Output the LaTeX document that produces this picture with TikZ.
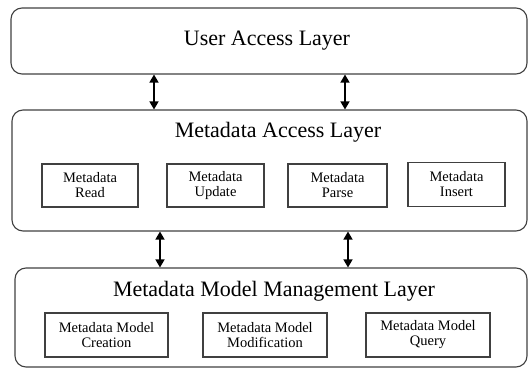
\documentclass[tikz,border=0pt]{standalone}
\usepackage{fontspec}
\setmainfont{Liberation Serif}
\usetikzlibrary{arrows.meta}
\begin{document}
\begin{tikzpicture}[x=1pt,y=-1pt,
  layer/.style={draw=black!75,line width=1.1pt,rounded corners=11pt},
  sub/.style={draw=black!75,line width=1.3pt,fill=white,align=center,
    font=\fontsize{14.5}{15}\selectfont,inner sep=0pt},
  ttl/.style={font=\fontsize{22}{24}\selectfont,inner sep=0pt},
  link/.style={line width=1.5pt,{Triangle[length=8pt,width=9pt]}-{Triangle[length=8pt,width=9pt]}}]
\useasboundingbox (0,0) rectangle (528,372);
% layers
\node[layer,minimum width=516pt,minimum height=66pt] (ual) at (269,41) {};
\node[ttl] (ualt) at (267,41) {User Access Layer};
\node[layer,minimum width=515pt,minimum height=121pt] (mal) at (269.5,170.5) {};
\node[ttl] (malt) at (278,132) {Metadata Access Layer};
\node[layer,minimum width=512pt,minimum height=99pt] (mml) at (271,317.5) {};
\node[ttl] (mmlt) at (274,291) {Metadata Model Management Layer};
% access sub boxes
\node[sub,minimum width=96pt,minimum height=43pt] (r) at (90,185.5) {Metadata\\Read};
\node[sub,minimum width=97pt,minimum height=43pt] (u) at (215.5,185.5) {Metadata\\Update};
\node[sub,minimum width=99pt,minimum height=43pt] (p) at (337.5,185.5) {Metadata\\Parse};
\node[sub,minimum width=97pt,minimum height=44pt] (i) at (456.5,184.5) {Metadata\\Insert};
% model sub boxes
\node[sub,minimum width=123pt,minimum height=44pt] (c) at (106.5,335) {Metadata Model\\Creation};
\node[sub,minimum width=124pt,minimum height=44pt] (m) at (265,335) {Metadata Model\\Modification};
\node[sub,minimum width=124pt,minimum height=44pt] (q) at (428,335) {Metadata Model\\Query};
% connectors
\coordinate (a1) at (154,0);
\coordinate (a2) at (345,0);
\coordinate (b1) at (160,0);
\coordinate (b2) at (348,0);
\draw[link] (ual.south -| a1) -- (mal.north -| a1);
\draw[link] (ual.south -| a2) -- (mal.north -| a2);
\draw[link] (mal.south -| b1) -- (mml.north -| b1);
\draw[link] (mal.south -| b2) -- (mml.north -| b2);
\end{tikzpicture}
\end{document}
